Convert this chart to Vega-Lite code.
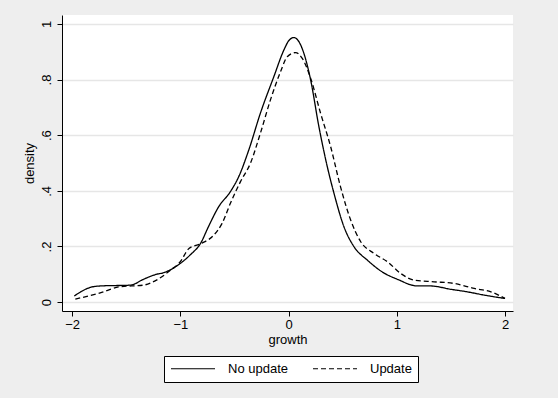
{
  "$schema": "https://vega.github.io/schema/vega-lite/v6.json",
  "autosize": {"type": "none"},
  "width": 451,
  "height": 296,
  "padding": {"left": 62, "top": 15, "right": 45, "bottom": 87},
  "background": "#eeeeee",
  "view": {"fill": "white", "stroke": null},
  "config": {
    "font": "Liberation Sans",
    "axis": {"labelFont": "Liberation Sans", "titleFont": "Liberation Sans", "labelColor": "black", "titleColor": "black", "domainColor": "black", "tickColor": "black", "titleFontWeight": "normal", "labelFontSize": 13, "titleFontSize": 13}
  },
  "data": {"values": [
    {"series": "No update", "x": -1.98, "y": 0.022},
    {"series": "No update", "x": -1.83, "y": 0.053},
    {"series": "No update", "x": -1.74, "y": 0.058},
    {"series": "No update", "x": -1.46, "y": 0.061},
    {"series": "No update", "x": -1.34, "y": 0.082},
    {"series": "No update", "x": -1.22, "y": 0.100},
    {"series": "No update", "x": -1.16, "y": 0.105},
    {"series": "No update", "x": -1.0, "y": 0.139},
    {"series": "No update", "x": -0.91, "y": 0.169},
    {"series": "No update", "x": -0.81, "y": 0.213},
    {"series": "No update", "x": -0.74, "y": 0.271},
    {"series": "No update", "x": -0.645, "y": 0.343},
    {"series": "No update", "x": -0.537, "y": 0.397},
    {"series": "No update", "x": -0.46, "y": 0.451},
    {"series": "No update", "x": -0.367, "y": 0.547},
    {"series": "No update", "x": -0.26, "y": 0.679},
    {"series": "No update", "x": -0.136, "y": 0.81},
    {"series": "No update", "x": -0.043, "y": 0.906},
    {"series": "No update", "x": 0.003, "y": 0.94},
    {"series": "No update", "x": 0.049, "y": 0.951},
    {"series": "No update", "x": 0.096, "y": 0.936},
    {"series": "No update", "x": 0.142, "y": 0.894},
    {"series": "No update", "x": 0.204, "y": 0.799},
    {"series": "No update", "x": 0.281, "y": 0.63},
    {"series": "No update", "x": 0.358, "y": 0.487},
    {"series": "No update", "x": 0.42, "y": 0.391},
    {"series": "No update", "x": 0.512, "y": 0.271},
    {"series": "No update", "x": 0.605, "y": 0.199},
    {"series": "No update", "x": 0.728, "y": 0.151},
    {"series": "No update", "x": 0.88, "y": 0.105},
    {"series": "No update", "x": 1.006, "y": 0.082},
    {"series": "No update", "x": 1.19, "y": 0.058},
    {"series": "No update", "x": 1.31, "y": 0.058},
    {"series": "No update", "x": 1.5, "y": 0.046},
    {"series": "No update", "x": 1.65, "y": 0.037},
    {"series": "No update", "x": 1.81, "y": 0.025},
    {"series": "No update", "x": 2.0, "y": 0.013},
    {"series": "Update", "x": -1.97, "y": 0.011},
    {"series": "Update", "x": -1.74, "y": 0.033},
    {"series": "Update", "x": -1.56, "y": 0.055},
    {"series": "Update", "x": -1.34, "y": 0.061},
    {"series": "Update", "x": -1.22, "y": 0.079},
    {"series": "Update", "x": -1.09, "y": 0.115},
    {"series": "Update", "x": -1.0, "y": 0.145},
    {"series": "Update", "x": -0.92, "y": 0.193},
    {"series": "Update", "x": -0.81, "y": 0.21},
    {"series": "Update", "x": -0.69, "y": 0.241},
    {"series": "Update", "x": -0.614, "y": 0.283},
    {"series": "Update", "x": -0.537, "y": 0.355},
    {"series": "Update", "x": -0.444, "y": 0.433},
    {"series": "Update", "x": -0.352, "y": 0.499},
    {"series": "Update", "x": -0.26, "y": 0.607},
    {"series": "Update", "x": -0.167, "y": 0.727},
    {"series": "Update", "x": -0.074, "y": 0.828},
    {"series": "Update", "x": -0.012, "y": 0.882},
    {"series": "Update", "x": 0.065, "y": 0.897},
    {"series": "Update", "x": 0.127, "y": 0.876},
    {"series": "Update", "x": 0.204, "y": 0.805},
    {"series": "Update", "x": 0.296, "y": 0.679},
    {"series": "Update", "x": 0.389, "y": 0.559},
    {"series": "Update", "x": 0.48, "y": 0.415},
    {"series": "Update", "x": 0.574, "y": 0.295},
    {"series": "Update", "x": 0.667, "y": 0.217},
    {"series": "Update", "x": 0.79, "y": 0.175},
    {"series": "Update", "x": 0.914, "y": 0.145},
    {"series": "Update", "x": 1.037, "y": 0.103},
    {"series": "Update", "x": 1.16, "y": 0.079},
    {"series": "Update", "x": 1.345, "y": 0.073},
    {"series": "Update", "x": 1.53, "y": 0.067},
    {"series": "Update", "x": 1.716, "y": 0.049},
    {"series": "Update", "x": 1.87, "y": 0.037},
    {"series": "Update", "x": 2.0, "y": 0.013}
  ]},
  "mark": {"type": "line", "color": "black", "strokeWidth": 1.3, "interpolate": "monotone"},
  "encoding": {
    "x": {
      "field": "x", "type": "quantitative", "title": "growth",
      "scale": {"domain": [-2.093, 2.074], "nice": false, "zero": false},
      "axis": {"values": [-2, -1, 0, 1, 2], "grid": false, "tickSize": 5, "labelPadding": 2, "titlePadding": 2, "domainWidth": 1}
    },
    "y": {
      "field": "y", "type": "quantitative", "title": "density",
      "scale": {"domain": [-0.032, 1.032], "nice": false, "zero": false},
      "axis": {"values": [0, 0.2, 0.4, 0.6, 0.8, 1], "grid": true, "gridColor": "#e6e6e6", "gridWidth": 1.5, "tickSize": 5, "labelAngle": -90, "labelAlign": "center", "labelBaseline": "bottom", "labelPadding": 4, "titlePadding": 4,
        "labelExpr": "replace(format(datum.value, '~g'), '0.', '.')"}
    },
    "strokeDash": {
      "field": "series", "type": "nominal",
      "scale": {"domain": ["No update", "Update"], "range": [[1, 0], [5, 3]]},
      "legend": {
        "title": null, "orient": "none", "legendX": 102, "legendY": 341,
        "direction": "horizontal", "columns": 2,
        "fillColor": "white", "strokeColor": "black", "padding": 6,
        "symbolType": "M-1,0H7", "symbolSize": 121, "symbolStrokeColor": "black", "symbolStrokeWidth": 1.2,
        "labelFont": "Liberation Sans", "labelFontSize": 13, "labelColor": "black", "labelOffset": 45, "columnPadding": 22
      }
    }
  }
}
